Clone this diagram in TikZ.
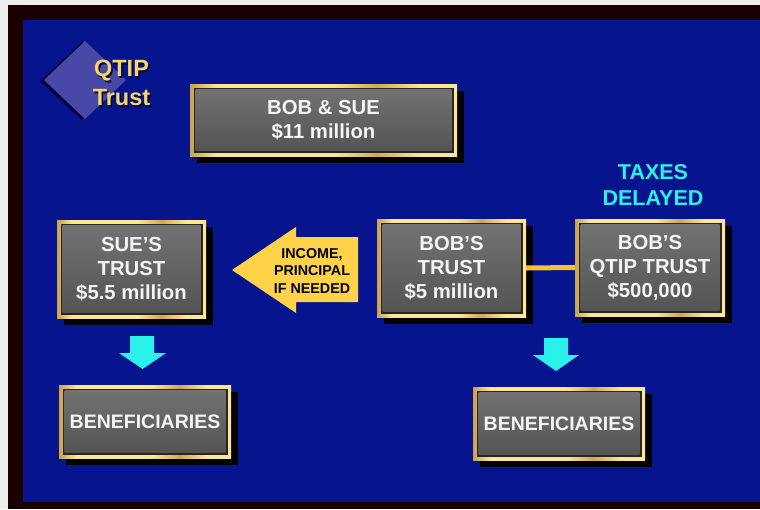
\documentclass[tikz,border=0pt]{standalone}
\usepackage{fontspec}
\setmainfont{Liberation Sans}
\usetikzlibrary{shadows}
\definecolor{pagegray}{HTML}{EEEEEE}
\definecolor{framedark}{HTML}{1A0000}
\definecolor{bgblue}{HTML}{06148E}
\definecolor{diamondc}{HTML}{4848A6}
\definecolor{diamondsh}{HTML}{000040}
\definecolor{goldtext}{HTML}{F7D56E}
\definecolor{gA}{HTML}{FFE690}
\definecolor{gB}{HTML}{A06A1C}
\definecolor{gC}{HTML}{D4A850}
\definecolor{edgedark}{HTML}{262626}
\definecolor{grayT}{HTML}{727272}
\definecolor{grayB}{HTML}{545454}
\definecolor{boxtext}{HTML}{F4F4F4}
\definecolor{arrowyellow}{HTML}{FFD24A}
\definecolor{linkyellow}{HTML}{F8C235}
\definecolor{cyanc}{HTML}{2AF2EA}
\pgfdeclarehorizontalshading{goldframe}{100bp}{color(0bp)=(gA); color(14bp)=(gA); color(21bp)=(gB); color(30bp)=(gA); color(52bp)=(gA); color(60bp)=(gC); color(68bp)=(gA); color(100bp)=(gA)}
\tikzset{
  goldbox/.style={rectangle, inner sep=0pt, text=boxtext, align=center,
    font=\bfseries\fontsize{20.3}{24}\selectfont,
    drop shadow={shadow xshift=7pt, shadow yshift=-7pt, opacity=1, fill=black},
    path picture={
      \shade[shading=goldframe] (path picture bounding box.south west) rectangle (path picture bounding box.north east);
      \fill[edgedark] ([shift={(3.5pt,3.5pt)}]path picture bounding box.south west) rectangle ([shift={(-3.5pt,-3.5pt)}]path picture bounding box.north east);
      \shade[top color=grayT, bottom color=grayB] ([shift={(5.5pt,5.5pt)}]path picture bounding box.south west) rectangle ([shift={(-5.5pt,-5.5pt)}]path picture bounding box.north east);
    }},
  benbox/.style={goldbox, font=\bfseries\fontsize{19.5}{24}\selectfont},
  link/.style={draw=linkyellow, line width=5pt},
  arrowlabel/.style={text=black, align=center, font=\bfseries\fontsize{14.3}{17.5}\selectfont},
  titletext/.style={align=center, font=\bfseries\fontsize{23.5}{29}\selectfont},
  taxtext/.style={text=cyanc, align=center, font=\bfseries\fontsize{21.5}{25.5}\selectfont}
}
\begin{document}
\begin{tikzpicture}[x=1pt,y=-1pt]
\useasboundingbox (0,0) rectangle (760,509);
\fill[pagegray] (0,0) rectangle (760,509);
\fill[framedark] (8,5) rectangle (760,509);
\fill[bgblue] (23,20) rectangle (760,502);
% diamond
\fill[diamondsh] (82,42) -- (40,81) -- (82,120) -- (124,81) -- cycle;
\fill[diamondc] (85,41) -- (44,80) -- (85,119) -- (126,80) -- cycle;
\node[titletext, text=black!70!bgblue] at (123,84.5) {QTIP\\Trust};
\node[titletext, text=goldtext] (title) at (121.5,83) {QTIP\\Trust};
% boxes
\node[goldbox, minimum width=267pt, minimum height=72pt] (bobsue) at (323.5,120) {BOB \& SUE\\\$11 million};
\node[goldbox, minimum width=149pt, minimum height=98pt] (sue) at (131.5,269) {SUE’S\\TRUST\\\$5.5 million};
\node[goldbox, minimum width=149pt, minimum height=98pt] (bobtrust) at (451.5,268) {BOB’S\\TRUST\\\$5 million};
\node[goldbox, minimum width=150pt, minimum height=97pt] (qtip) at (650,267.5) {BOB’S\\QTIP TRUST\\\$500,000};
\node[benbox, minimum width=172pt, minimum height=73pt] (ben1) at (145,421.5) {\raisebox{-3.5pt}{BENEFICIARIES}};
\node[benbox, minimum width=172pt, minimum height=73pt] (ben2) at (559,423.5) {\raisebox{-3.5pt}{BENEFICIARIES}};
% link
\draw[link] (bobtrust.east) -- (qtip.west);
% taxes delayed
\node[taxtext] (taxes) at (653,185) {TAXES\\DELAYED};
% yellow block arrow
\fill[arrowyellow] (232,270) -- (296,227) -- (296,237) -- (358,237) -- (358,302) -- (296,302) -- (296,313) -- cycle;
\node[arrowlabel] (income) at (312,271) {INCOME,\\PRINCIPAL\\IF NEEDED};
% cyan arrows
\fill[cyanc] (130,336) -- (154,336) -- (154,353) -- (166,353) -- (142.5,369) -- (119,353) -- (130,353) -- cycle;
\fill[cyanc] (544,338) -- (568,338) -- (568,355) -- (579,355) -- (556,371) -- (533,355) -- (544,355) -- cycle;
\end{tikzpicture}
\end{document}
